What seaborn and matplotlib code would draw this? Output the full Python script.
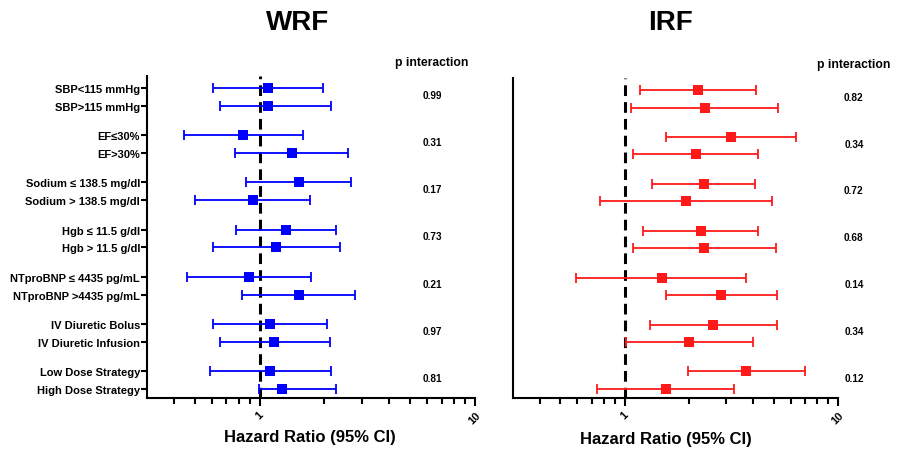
"""
Forest plot: hazard ratios (95% CI) for WRF and IRF across subgroups.
"""

import numpy as np
import pandas as pd
import matplotlib
matplotlib.use("Agg")
import matplotlib.pyplot as plt
import matplotlib.transforms as mtransforms
from matplotlib.ticker import FixedLocator, NullFormatter, FixedFormatter
import seaborn as sns

# === Data ===

subgroups = [
    "SBP<115 mmHg", "SBP>115 mmHg",
    "EF≤30%", "EF>30%",
    "Sodium ≤ 138.5 mg/dl", "Sodium > 138.5 mg/dl",
    "Hgb ≤ 11.5 g/dl", "Hgb > 11.5 g/dl",
    "NTproBNP ≤ 4435 pg/mL", "NTproBNP >4435 pg/mL",
    "IV Diuretic Bolus", "IV Diuretic Infusion",
    "Low Dose Strategy", "High Dose Strategy",
]

wrf_hr = [1.09, 1.09, 0.84, 1.41, 1.52, 0.93, 1.32, 1.19, 0.89, 1.52, 1.12, 1.17, 1.12, 1.27]
wrf_lo = [0.605, 0.653, 0.445, 0.766, 0.86, 0.50, 0.774, 0.61, 0.46, 0.83, 0.61, 0.653, 0.59, 0.99]
wrf_hi = [1.97, 2.15, 1.59, 2.57, 2.67, 1.72, 2.27, 2.35, 1.73, 2.76, 2.06, 2.12, 2.14, 2.26]
wrf_p = ["0.99", "0.31", "0.17", "0.73", "0.21", "0.97", "0.81"]

irf_hr = [2.21, 2.37, 3.15, 2.15, 2.35, 1.93, 2.27, 2.36, 1.49, 2.83, 2.60, 2.01, 3.72, 1.56]
irf_lo = [1.18, 1.07, 1.57, 1.09, 1.34, 0.764, 1.22, 1.10, 0.59, 1.56, 1.31, 1.01, 1.98, 0.74]
irf_hi = [4.14, 5.26, 6.34, 4.24, 4.09, 4.91, 4.24, 5.11, 3.72, 5.19, 5.17, 3.99, 7.01, 3.27]
irf_p = ["0.82", "0.34", "0.72", "0.68", "0.14", "0.34", "0.12"]

major_ticks = [1, 10]
major_labels = ["1", "10"]
minor_ticks = [0.4, 0.5, 0.6, 0.7, 0.8, 0.9, 2, 3, 4, 5, 6, 7, 8, 9]

# row positions: pairs of subgroups, with a gap between pairs
group = np.repeat(np.arange(len(subgroups) // 2), 2)
within = np.tile([0, 1], len(subgroups) // 2)
pos = group * 2.67 + within
pair_mid = np.arange(len(subgroups) // 2) * 2.67 + 0.5

df = pd.DataFrame({"subgroup": subgroups, "pos": pos,
                   "wrf_hr": wrf_hr, "wrf_lo": wrf_lo, "wrf_hi": wrf_hi,
                   "irf_hr": irf_hr, "irf_lo": irf_lo, "irf_hi": irf_hi})

# === Style ===

sns.set_style("ticks")
plt.rcParams["font.family"] = ["Liberation Sans", "DejaVu Sans"]
plt.rcParams["font.weight"] = "bold"
plt.rcParams["axes.linewidth"] = 1.5
for key in ["text.color", "axes.labelcolor", "xtick.color", "ytick.color", "axes.edgecolor"]:
    plt.rcParams[key] = "black"

fig = plt.figure(figsize=(8.98, 4.52), dpi=100)
W, H = 898, 452


def px_axes(x0, x1, y0, y1):
    return fig.add_axes([x0 / W, 1 - y1 / H, (x1 - x0) / W, (y1 - y0) / H])


ax_w = px_axes(147, 475, 77, 399)
ax_i = px_axes(513, 838, 79, 399)


def draw_panel(ax, prefix, color, pvals, p_x, show_labels):
    ax.errorbar(df[prefix + "_hr"], df["pos"],
                xerr=[df[prefix + "_hr"] - df[prefix + "_lo"], df[prefix + "_hi"] - df[prefix + "_hr"]],
                fmt="none", ecolor=color, elinewidth=1.3, capsize=3.3, capthick=1.3, zorder=2)
    sns.scatterplot(data=df, x=prefix + "_hr", y="pos", marker="s", s=42, color=color,
                    edgecolor=color, linewidth=0, ax=ax, zorder=3)
    ax.axvline(1, color="black", lw=2.2, ls=(0, (3.5, 2)), zorder=1)

    ax.set_xscale("log")
    ax.set_xlim(0.3, 10)
    ax.set_ylim(pos[-1] + 0.51, -0.68)
    ax.xaxis.set_major_locator(FixedLocator(major_ticks))
    ax.xaxis.set_major_formatter(FixedFormatter(major_labels))
    ax.xaxis.set_minor_locator(FixedLocator(minor_ticks))
    ax.xaxis.set_minor_formatter(NullFormatter())
    ax.tick_params(axis="x", which="major", length=6, width=1.5, labelsize=8, labelrotation=45, pad=2)
    ax.tick_params(axis="x", which="minor", length=4, width=1.5)
    for lab in ax.get_xticklabels():
        lab.set_fontweight("bold")

    if show_labels:
        ax.set_yticks(pos)
        ax.set_yticklabels(subgroups, fontsize=8, fontweight="bold")
        ax.tick_params(axis="y", length=4, width=1.5, pad=1)
    else:
        ax.set_yticks([])

    ax.set_xlabel("Hazard Ratio (95% CI)", fontsize=12, fontweight="bold", va="center")
    ax.set_ylabel("")
    sns.despine(ax=ax)

    trans = mtransforms.blended_transform_factory(ax.transAxes, ax.transData)
    ax.text(p_x, -1.48, "p interaction", transform=trans, ha="center", va="center",
            fontsize=8.7, fontweight="bold", clip_on=False)
    for y, p in zip(pair_mid, pvals):
        ax.text(p_x, y - 0.12, p, transform=trans, ha="center", va="center",
                fontsize=7.2, fontweight="bold", clip_on=False)


draw_panel(ax_w, "wrf", "#0000ff", wrf_p, 0.869, True)
draw_panel(ax_i, "irf", "#ff1a1a", irf_p, 1.049, False)

ax_w.xaxis.set_label_coords(0.497, -0.121)
ax_i.xaxis.set_label_coords(0.471, -0.127)

fig.text(298 / W, 1 - 23 / H, "WRF", ha="center", va="center", fontsize=20, fontweight="bold")
fig.text(671 / W, 1 - 23 / H, "IRF", ha="center", va="center", fontsize=20, fontweight="bold")

fig.savefig("out.png", dpi=100)
